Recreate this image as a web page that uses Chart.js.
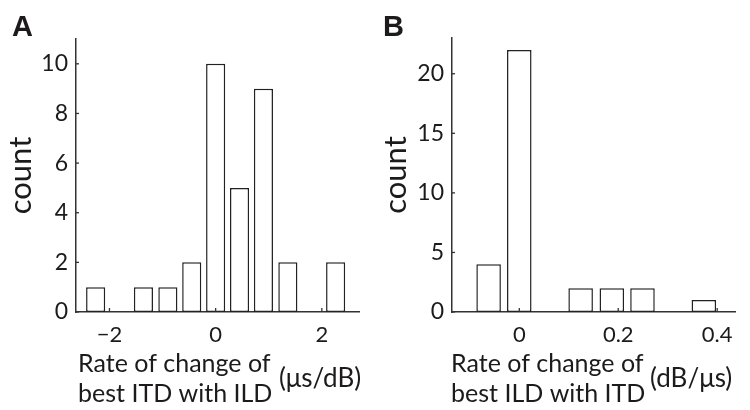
<!DOCTYPE html>
<html><head><meta charset="utf-8">
<script src="https://cdn.jsdelivr.net/npm/chart.js@4/dist/chart.umd.min.js"></script>
<style>
body{margin:0;background:#fff}
#wrap{position:relative;width:750px;height:410px}
canvas{position:absolute;top:0}
</style>
</head><body>
<div id="wrap">
<canvas id="ca" width="375" height="410" style="left:0"></canvas>
<canvas id="cb" width="375" height="410" style="left:375px"></canvas>
</div>
<script>
// Panel A data
const binsA = [-2.26, -1.36, -0.90, -0.45, 0, 0.45, 0.90, 1.36, 2.26];
const countsA = [1, 1, 1, 2, 10, 5, 9, 2, 2];
const xTicksA = [-2, 0, 2];
const yTicksA = [0, 2, 4, 6, 8, 10];
// Panel B data
const binsB = [-0.062, 0, 0.124, 0.187, 0.249, 0.373];
const countsB = [4, 22, 2, 2, 2, 1];
const xTicksB = [0, 0.2, 0.4];
const yTicksB = [0, 5, 10, 15, 20];

const FONT = 'Lato';
const INK = '#1c1a1b';

function fmt(v){ return v < 0 ? '\u2212' + Math.abs(v) : String(v); }

function makeChart(id, cfg){
  const textPlugin = {
    id: 'txt',
    afterDatasetsDraw(chart){
      const ctx = chart.ctx, ca = chart.chartArea;
      const xs = chart.scales.x, ys = chart.scales.y;
      ctx.save();
      ctx.strokeStyle = '#333'; ctx.lineWidth = 1.3;
      xs.ticks.forEach(t => {
        const px = xs.getPixelForValue(t.value);
        ctx.beginPath(); ctx.moveTo(px, ca.bottom); ctx.lineTo(px, ca.bottom - 4); ctx.stroke();
      });
      ys.ticks.forEach(t => {
        const py = ys.getPixelForValue(t.value);
        ctx.beginPath(); ctx.moveTo(ca.left, py); ctx.lineTo(ca.left + 3, py); ctx.stroke();
      });
      ctx.fillStyle = INK;
      // panel letter
      ctx.font = 'bold 29px "Liberation Sans"';
      ctx.textAlign = 'left'; ctx.textBaseline = 'alphabetic';
      ctx.fillText(cfg.panel, cfg.panelX, 36);
      // y title
      ctx.save();
      ctx.translate(21, (ca.top + ca.bottom) / 2);
      ctx.rotate(-Math.PI / 2);
      ctx.font = '31px ' + FONT;
      ctx.textAlign = 'center'; ctx.textBaseline = 'middle';
      ctx.fillText('count', 0, 0);
      ctx.restore();
      // x title
      ctx.font = '25px ' + FONT;
      ctx.textAlign = 'left'; ctx.textBaseline = 'alphabetic';
      ctx.fillText(cfg.line1, cfg.titleX, 372);
      ctx.fillText(cfg.line2, cfg.titleX, 402);
      ctx.font = '26px ' + FONT;
      ctx.fillText(cfg.unit, cfg.unitX, 387);
      ctx.restore();
    }
  };
  return new Chart(document.getElementById(id), {
    type: 'bar',
    data: {
      datasets: [{
        data: cfg.bins.map((b, i) => ({x: b, y: cfg.counts[i]})),
        backgroundColor: '#ffffff',
        borderColor: '#222',
        borderWidth: 1.5,
        borderSkipped: false,
        barPercentage: 1,
        categoryPercentage: 0.8
      }]
    },
    options: {
      responsive: false,
      animation: false,
      events: [],
      layout: { padding: { left: 0, top: cfg.top, right: cfg.right, bottom: 0 } },
      plugins: { legend: { display: false }, tooltip: { enabled: false } },
      scales: {
        x: {
          type: 'linear',
          offset: false,
          bounds: 'ticks',
          min: cfg.xMin, max: cfg.xMax,
          grid: { display: false, drawTicks: false, offset: false },
          border: { display: true, color: '#333', width: 1.5 },
          afterBuildTicks: s => { s.ticks = cfg.xTicks.map(v => ({value: v})); },
          afterFit: s => { s.height = 98; },
          ticks: { callback: v => fmt(v), color: INK, padding: 10, maxRotation: 0, autoSkip: false,
                   font: { family: FONT, size: 22 } }
        },
        y: {
          min: 0, max: cfg.yMax,
          grid: { display: false, drawTicks: false },
          border: { display: true, color: '#333', width: 1.5 },
          afterBuildTicks: s => { s.ticks = cfg.yTicks.map(v => ({value: v})); },
          afterFit: s => { s.width = cfg.left; },
          ticks: { callback: v => fmt(v), color: INK, padding: 8,
                   font: { family: FONT, size: 23 } }
        }
      }
    },
    plugins: [textPlugin]
  });
}

makeChart('ca', {
  bins: binsA, counts: countsA, xTicks: xTicksA, yTicks: yTicksA,
  xMin: -2.63, xMax: 2.70, yMax: 11,
  left: 76, right: 16, top: 39,
  panel: 'A', panelX: 12,
  line1: 'Rate of change of', line2: 'best ITD with ILD', unit: '(\u03bcs/dB)',
  titleX: 78, unitX: 279
});
makeChart('cb', {
  bins: binsB, counts: countsB, xTicks: xTicksB, yTicks: yTicksB,
  xMin: -0.136, xMax: 0.436, yMax: 23,
  left: 77, right: 15, top: 38,
  panel: 'B', panelX: 8,
  line1: 'Rate of change of', line2: 'best ILD with ITD', unit: '(dB/\u03bcs)',
  titleX: 76, unitX: 275
});
</script>
</body></html>
